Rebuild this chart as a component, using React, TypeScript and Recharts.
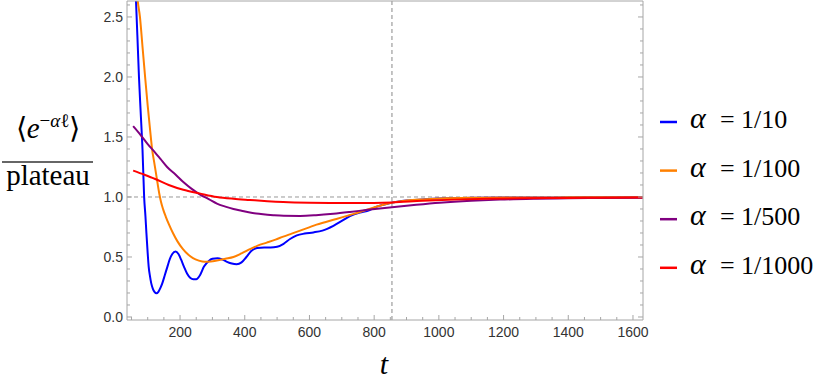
import React from "react"
import { LineChart, Line, XAxis, YAxis, ReferenceLine } from "recharts"

// alpha = 1/10
const blueT = [50, 58, 64, 68, 73, 78, 84, 89, 93, 96, 100, 103, 107, 111, 116, 121, 127, 133, 139, 145, 153, 161, 168, 176, 186, 195, 203, 212, 222, 232, 241, 250, 262, 274, 288, 300, 316, 330, 345, 360, 375, 390, 405, 420, 438, 460, 480, 500, 520, 540, 561, 585, 612, 640, 674, 700, 725, 756, 780, 808, 850, 900, 950, 1000, 1100, 1200, 1300, 1400, 1500, 1630]
const blueV = [4.2, 3.0, 2.62, 2.35, 2.0, 1.72, 1.39, 1.0, 0.84, 0.7, 0.53, 0.42, 0.34, 0.28, 0.235, 0.21, 0.197, 0.21, 0.24, 0.28, 0.35, 0.42, 0.48, 0.525, 0.545, 0.525, 0.48, 0.42, 0.36, 0.325, 0.315, 0.315, 0.35, 0.42, 0.465, 0.485, 0.49, 0.48, 0.46, 0.445, 0.44, 0.455, 0.5, 0.55, 0.575, 0.58, 0.58, 0.585, 0.61, 0.65, 0.68, 0.695, 0.705, 0.72, 0.76, 0.8, 0.84, 0.87, 0.885, 0.92, 0.95, 0.97, 0.98, 0.988, 0.993, 0.995, 0.996, 0.997, 0.997, 0.997]

// alpha = 1/100
const orangeT = [50, 62, 69, 76, 84, 92, 100, 107, 114, 120, 126, 131, 136, 141, 148, 156, 166, 178, 192, 209, 225, 240, 258, 276, 295, 314, 340, 365, 390, 416, 440, 468, 495, 519, 545, 571, 597, 622, 648, 674, 700, 725, 756, 790, 828, 860, 900, 950, 1003, 1100, 1200, 1300, 1400, 1500, 1630]
const orangeV = [3.5, 2.9, 2.64, 2.5, 2.25, 2.0, 1.76, 1.57, 1.39, 1.29, 1.19, 1.105, 1.025, 0.96, 0.895, 0.835, 0.77, 0.7, 0.63, 0.565, 0.52, 0.49, 0.47, 0.46, 0.462, 0.47, 0.485, 0.5, 0.53, 0.565, 0.595, 0.62, 0.645, 0.67, 0.695, 0.72, 0.745, 0.77, 0.79, 0.81, 0.83, 0.85, 0.875, 0.905, 0.935, 0.955, 0.97, 0.98, 0.987, 0.993, 0.995, 0.996, 0.997, 0.997, 0.997]

// alpha = 1/500
const purpleT = [55, 80, 100, 123, 140, 160, 185, 210, 235, 262, 290, 314, 340, 365, 390, 416, 450, 488, 520, 571, 620, 674, 725, 780, 855, 930, 1003, 1100, 1189, 1300, 1400, 1500, 1630]
const purpleV = [1.59, 1.51, 1.44, 1.37, 1.315, 1.25, 1.19, 1.125, 1.07, 1.02, 0.98, 0.945, 0.92, 0.9, 0.885, 0.87, 0.858, 0.848, 0.843, 0.842, 0.848, 0.86, 0.875, 0.893, 0.915, 0.935, 0.952, 0.968, 0.978, 0.985, 0.989, 0.992, 0.994]

// alpha = 1/1000
const redT = [55, 90, 123, 165, 210, 260, 314, 365, 416, 470, 519, 600, 674, 750, 855, 950, 1050, 1150, 1250, 1400, 1500, 1630]
const redV = [1.22, 1.185, 1.15, 1.1, 1.06, 1.03, 1.0, 0.985, 0.975, 0.965, 0.958, 0.952, 0.95, 0.949, 0.955, 0.968, 0.978, 0.985, 0.989, 0.992, 0.994, 0.995]

const xTicks = Array.from({ length: 32 }, (_, i) => 50 + i * 50)
const xTopTicks = Array.from({ length: 16 }, (_, i) => 100 + i * 100)
const yTicks = Array.from({ length: 27 }, (_, i) => i / 10)

const marker = 855

const series = [
  { name: "1/10", color: "#0000ff", t: blueT, v: blueV },
  { name: "1/100", color: "#ff8000", t: orangeT, v: orangeV },
  { name: "1/500", color: "#800080", t: purpleT, v: purpleV },
  { name: "1/1000", color: "#ff0000", t: redT, v: redV },
]

const FRAME = "#a6a6a6"
const TXT = "#333"
const SANS = "Liberation Sans"
const SERIF = "Liberation Serif"

function BottomTick(props: any) {
  const { x, y, payload } = props
  const major = Math.round(payload.value) % 200 === 0
  return (
    <g>
      <line x1={x} x2={x} y1={y} y2={y - (major ? 5 : 3)} stroke={FRAME} />
      {major && (
        <text x={x} y={y + 17} textAnchor="middle" style={{ fontSize: 14, fontFamily: SANS }} fill={TXT}>
          {payload.value}
        </text>
      )}
    </g>
  )
}

function TopTick(props: any) {
  const { x, y } = props
  return <line x1={x} x2={x} y1={y} y2={y + 3} stroke={FRAME} />
}

function LeftTick(props: any) {
  const { x, y, payload } = props
  const k = Math.round(payload.value * 10)
  const major = k % 5 === 0
  return (
    <g>
      <line x1={x} x2={x + (major ? 5 : 3)} y1={y} y2={y} stroke={FRAME} />
      {major && (
        <text x={x - 4} y={y + 5} textAnchor="end" style={{ fontSize: 14, fontFamily: SANS }} fill={TXT}>
          {(k / 10).toFixed(1)}
        </text>
      )}
    </g>
  )
}

function RightTick(props: any) {
  const { x, y, payload } = props
  const major = Math.round(payload.value * 10) % 5 === 0
  return <line x1={x} x2={x - (major ? 5 : 3)} y1={y} y2={y} stroke={FRAME} />
}

const serifStyle = (size: number, italic = false) => ({
  fontFamily: SERIF,
  fontSize: size,
  fontStyle: italic ? "italic" : "normal",
})

export default function App() {
  return (
    <div style={{ position: "absolute", left: 0, top: 0, width: 830, height: 386, background: "#fff" }}>
      <LineChart width={830} height={386} margin={{ top: 0, right: 186, bottom: 65, left: 126 }}>
        <XAxis
          xAxisId="b"
          dataKey="t"
          type="number"
          domain={[36, 1631]}
          allowDataOverflow
          ticks={xTicks}
          interval={0}
          height={1}
          tickSize={0}
          tickMargin={0}
          axisLine={{ stroke: FRAME }}
          tick={<BottomTick />}
        />
        <XAxis
          xAxisId="top"
          orientation="top"
          type="number"
          domain={[36, 1631]}
          allowDataOverflow
          ticks={xTopTicks}
          interval={0}
          height={1}
          tickSize={0}
          tickMargin={0}
          axisLine={{ stroke: FRAME }}
          tick={<TopTick />}
        />
        <YAxis
          yAxisId="l"
          type="number"
          domain={[-0.025, 2.633]}
          allowDataOverflow
          ticks={yTicks}
          interval={0}
          width={1}
          tickSize={0}
          tickMargin={0}
          axisLine={{ stroke: FRAME }}
          tick={<LeftTick />}
        />
        <YAxis
          yAxisId="r"
          orientation="right"
          type="number"
          domain={[-0.025, 2.633]}
          allowDataOverflow
          ticks={yTicks}
          interval={0}
          width={1}
          tickSize={0}
          tickMargin={0}
          axisLine={{ stroke: FRAME }}
          tick={<RightTick />}
        />
        <ReferenceLine xAxisId="b" yAxisId="l" y={1} stroke="#999" strokeDasharray="4 3" />
        <ReferenceLine xAxisId="b" yAxisId="l" x={marker} stroke="#888" strokeDasharray="4 3" />
        {series.map((s) => (
          <Line
            key={s.name}
            xAxisId="b"
            yAxisId="l"
            data={s.t.map((t, i) => ({ t, v: s.v[i] }))}
            dataKey="v"
            type="monotone"
            stroke={s.color}
            strokeWidth={2}
            dot={false}
            activeDot={false}
            isAnimationActive={false}
          />
        ))}
      </LineChart>

      <svg width={830} height={386} style={{ position: "absolute", left: 0, top: 0, pointerEvents: "none" }}>
        <text x={48} y={138} textAnchor="middle" style={serifStyle(29)} fill="#000">
          ⟨<tspan style={serifStyle(29, true)}>e</tspan>
          <tspan dy={-11} style={serifStyle(19)}>−</tspan>
          <tspan style={serifStyle(19, true)}>α</tspan>
          <tspan style={serifStyle(19)}>ℓ</tspan>
          <tspan dy={11}>⟩</tspan>
        </text>
        <line x1={2} x2={93} y1={162} y2={162} stroke="#333" strokeWidth={1.6} />
        <text x={48} y={185} textAnchor="middle" style={serifStyle(29)} fill="#000">
          plateau
        </text>
        <text x={384} y={374} textAnchor="middle" style={serifStyle(30, true)} fill="#000">
          t
        </text>
        {series.map((s, i) => {
          const cy = 122 + i * 48.6
          return (
            <g key={s.name}>
              <line x1={660} x2={677} y1={cy} y2={cy} stroke={s.color} strokeWidth={2.5} />
              <text y={cy + 6} style={serifStyle(26)} fill="#000">
                <tspan x={690} style={serifStyle(30, true)}>α</tspan>
                <tspan x={720}>=</tspan>
                <tspan x={741}>{s.name}</tspan>
              </text>
            </g>
          )
        })}
      </svg>
    </div>
  )
}
